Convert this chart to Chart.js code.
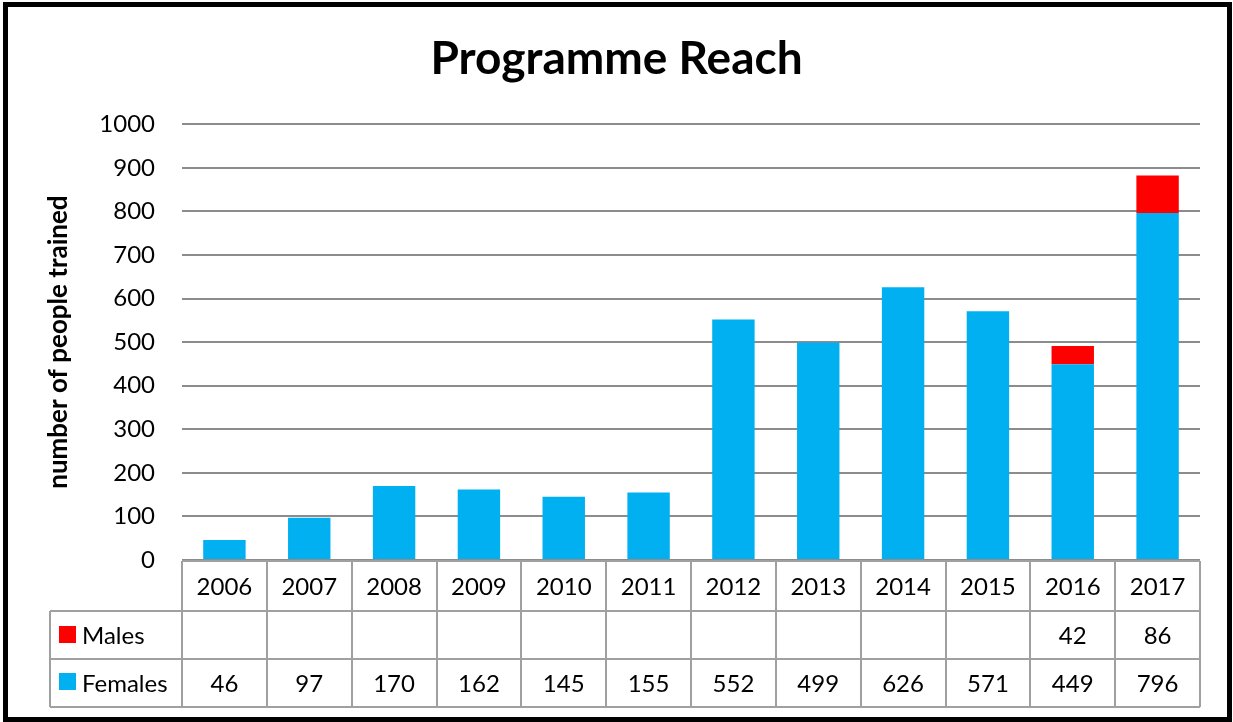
<!DOCTYPE html>
<html>
<head>
<meta charset="utf-8">
<script src="https://cdn.jsdelivr.net/npm/chart.js@4.4.0/dist/chart.umd.min.js"></script>
<style>
   html, body { margin: 0; padding: 0; background: #fff; }
   #wrap { width: 1233px; height: 722px; }
</style>
</head>
<body>
<div id="wrap"><canvas id="chart" width="1233" height="722"></canvas></div>
<script>
// data
const years = ['2006','2007','2008','2009','2010','2011','2012','2013','2014','2015','2016','2017'];
const females = [46, 97, 170, 162, 145, 155, 552, 499, 626, 571, 449, 796];
const males = [null, null, null, null, null, null, null, null, null, null, 42, 86];
const yTicks = [0, 100, 200, 300, 400, 500, 600, 700, 800, 900, 1000];

const FONT = 'Lato, "Open Sans", sans-serif';
const BLUE = '#00B0F0', RED = '#FF0000', LINE = '#A0A0A0';

// draws the data table under the plot and the outer frame
const tablePlugin = {
   id: 'dataTable',
   afterDraw(chart) {
      const ctx = chart.ctx, x = chart.scales.x, area = chart.chartArea;
      const step = (area.right - area.left) / years.length;
      const yearTop = area.bottom + 1, rowA = 611, rowB = 659, rowEnd = 707;
      const tableLeft = 50;

      ctx.save();
      ctx.strokeStyle = LINE;
      ctx.lineWidth = 2;
      ctx.beginPath();
      ctx.moveTo(area.left, yearTop); ctx.lineTo(area.right, yearTop);
      ctx.moveTo(tableLeft, rowA); ctx.lineTo(area.right, rowA);
      ctx.moveTo(tableLeft, rowB); ctx.lineTo(area.right, rowB);
      ctx.moveTo(tableLeft, rowEnd); ctx.lineTo(area.right, rowEnd);
      ctx.moveTo(tableLeft, rowA); ctx.lineTo(tableLeft, rowEnd);
      for (let i = 0; i <= years.length; i++) {
         const px = Math.round(area.left + i * step);
         ctx.moveTo(px, yearTop); ctx.lineTo(px, rowEnd);
      }
      ctx.stroke();

      ctx.fillStyle = '#000';
      ctx.font = '24px ' + FONT;
      ctx.textAlign = 'center';
      ctx.textBaseline = 'middle';
      years.forEach((yr, i) => {
         const cx = x.getPixelForValue(i);
         ctx.fillText(yr, cx, (yearTop + rowA) / 2 + 1);
         if (males[i] != null) ctx.fillText(String(males[i]), cx, (rowA + rowB) / 2 + 1);
         if (females[i] != null) ctx.fillText(String(females[i]), cx, (rowB + rowEnd) / 2 + 1);
      });

      // legend keys
      ctx.textAlign = 'left';
      ctx.fillStyle = RED;
      ctx.fillRect(59, 626, 17, 17);
      ctx.fillStyle = BLUE;
      ctx.fillRect(59, 673, 17, 17);
      ctx.fillStyle = '#000';
      ctx.fillText('Males', 82, (rowA + rowB) / 2 + 1);
      ctx.fillText('Females', 82, (rowB + rowEnd) / 2 + 1);

      // outer frame
      ctx.strokeStyle = '#000';
      ctx.lineWidth = 5;
      ctx.strokeRect(5.5, 4.5, 1224, 715);
      ctx.restore();
   }
};

const chart = new Chart(document.getElementById('chart').getContext('2d'), {
   type: 'bar',
   data: {
      labels: years,
      datasets: [
         {
            label: 'Females',
            data: females,
            backgroundColor: BLUE,
            barPercentage: 0.5,
            categoryPercentage: 1
         },
         {
            label: 'Males',
            data: males,
            backgroundColor: RED,
            barPercentage: 0.5,
            categoryPercentage: 1
         }
      ]
   },
   plugins: [tablePlugin],
   options: {
      responsive: false,
      animation: false,
      layout: { padding: { left: 33, right: 33, top: 0, bottom: 162 } },
      plugins: {
         legend: { display: false },
         tooltip: { enabled: false },
         title: {
            display: true,
            text: 'Programme Reach',
            color: '#000',
            font: { family: FONT, size: 46, weight: 'bold' },
            padding: { top: 32, bottom: 37 }
         }
      },
      scales: {
         x: {
            display: false,
            stacked: true
         },
         y: {
            stacked: true,
            min: 0,
            max: 1000,
            afterFit(scale) { scale.width = 149; },
            afterBuildTicks(scale) { scale.ticks = yTicks.map(v => ({ value: v })); },
            border: { display: false },
            grid: { color: '#8C8C8C', lineWidth: 2, drawTicks: false },
            ticks: {
               color: '#000',
               padding: 27,
               font: { family: FONT, size: 24 },
               callback: v => String(v)
            },
            title: {
               display: true,
               text: 'number of people trained',
               color: '#000',
               font: { family: FONT, size: 26, weight: 'bold' },
               padding: { top: 10, bottom: 0 }
            }
         }
      }
   }
});
</script>
</body>
</html>
